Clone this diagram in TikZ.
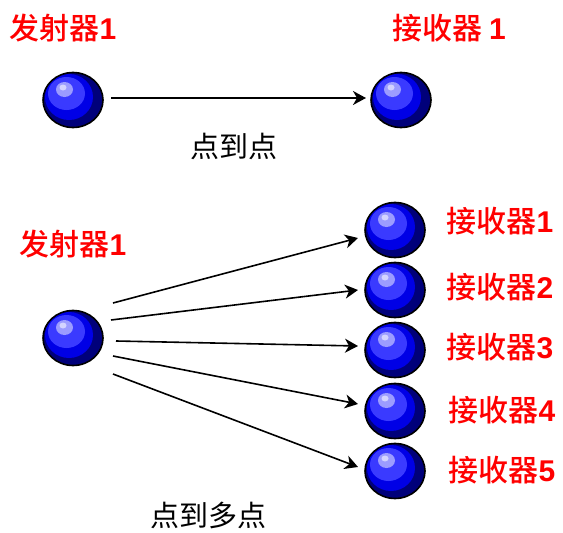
\documentclass[tikz,border=0pt]{standalone}
\usepackage{fontspec}
\newfontfamily\cjk{Noto Sans CJK SC}
\newfontfamily\cjkm{Noto Sans CJK SC Medium}
\newfontfamily\lat{Liberation Sans}
\usetikzlibrary{shapes.geometric,arrows.meta}
\definecolor{ballnavy}{HTML}{00007A}
\definecolor{ballblue}{HTML}{0000E6}
\definecolor{balllight}{HTML}{3A3AFF}
\definecolor{ballhigh}{HTML}{9C9CFF}
\definecolor{ballcore}{HTML}{D4D4FF}
\tikzset{
  ball/.style={ellipse, minimum width=60pt, minimum height=55pt, inner sep=0pt,
    fill=ballnavy, draw=black, line width=1.6pt,
    path picture={
      \begin{scope}[shift={(path picture bounding box.center)}]
        \fill[ballblue] (-4,-3) ellipse [x radius=24pt, y radius=23pt];
        \fill[balllight] (-6.5,-6.5) ellipse [x radius=18.5pt, y radius=16.5pt];
        \fill[ballhigh] (-8.5,-10.5) ellipse [x radius=8.5pt, y radius=7.5pt];
        \fill[ballcore] (-10,-12.5) ellipse [x radius=3.5pt, y radius=3pt];
      \end{scope}
    }},
  redlabel/.style={text=red, inner sep=0pt, font=\fontsize{30}{32}\selectfont\cjkm},
  blacklabel/.style={text=black, inner sep=0pt, font=\fontsize{29}{31}\selectfont\cjk},
  link/.style={draw=black, line width=1.6pt, -{Stealth[length=13pt, width=14pt, inset=4pt]}}
}
\begin{document}
\begin{tikzpicture}[x=1pt, y=-1pt]
\useasboundingbox (0,0) rectangle (563,533);
% top: point to point
\node[redlabel] (tx1lab) at (63,28) {发射器{\lat\bfseries 1}};
\node[redlabel] (rx1lab) at (449,28) {接收器 {\lat\bfseries 1}};
\node[ball] (tx1) at (73,100) {};
\node[ball] (rx1) at (401,100) {};
\coordinate (t1s) at (111,98);
\coordinate (t1e) at (366,98);
\draw[link] (t1s) -- (t1e);
\node[blacklabel] (p2p) at (234,146) {点到点};
% bottom: point to multipoint
\node[redlabel] (tx2lab) at (73,244) {发射器{\lat\bfseries 1}};
\node[ball] (tx2) at (73,338) {};
\node[ball] (r1) at (395,230) {};
\node[ball] (r2) at (395,290) {};
\node[ball] (r3) at (395,350) {};
\node[ball] (r4) at (395,411) {};
\node[ball] (r5) at (395,471) {};
\node[redlabel] (l1) at (500,221) {接收器{\lat\bfseries 1}};
\node[redlabel] (l2) at (500,287) {接收器{\lat\bfseries 2}};
\node[redlabel] (l3) at (500,347) {接收器{\lat\bfseries 3}};
\node[redlabel] (l4) at (502,410) {接收器{\lat\bfseries 4}};
\node[redlabel] (l5) at (502,470) {接收器{\lat\bfseries 5}};
\coordinate (s1) at (113,303);
\coordinate (s2) at (111,320);
\coordinate (s3) at (116,341);
\coordinate (s4) at (113,356);
\coordinate (s5) at (113,374);
\coordinate (e1) at (358,238);
\coordinate (e2) at (358,290);
\coordinate (e3) at (358,346);
\coordinate (e4) at (358,404);
\coordinate (e5) at (358,467);
\draw[link] (s1) -- (e1);
\draw[link] (s2) -- (e2);
\draw[link] (s3) -- (e3);
\draw[link] (s4) -- (e4);
\draw[link] (s5) -- (e5);
\node[blacklabel] (p2mp) at (208,515) {点到多点};
\end{tikzpicture}
\end{document}
